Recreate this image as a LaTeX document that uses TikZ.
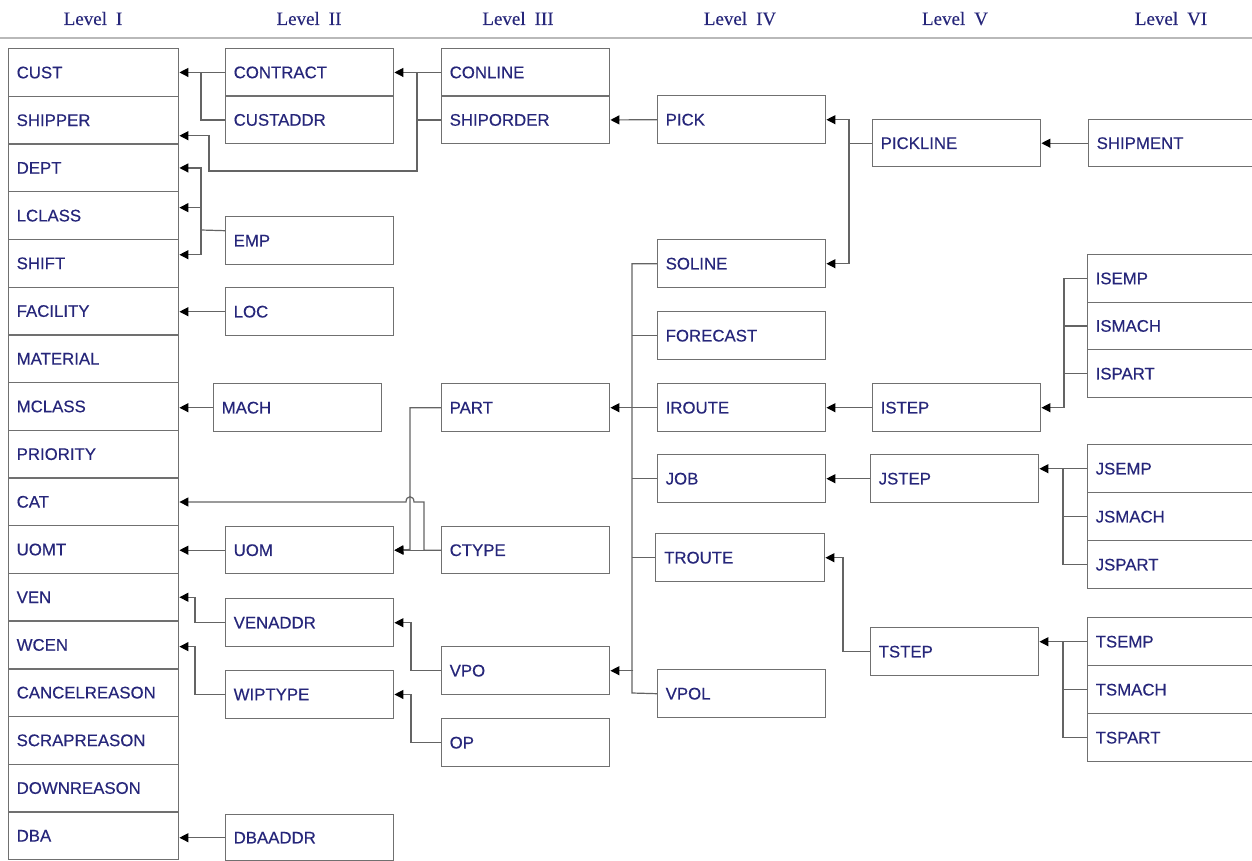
\documentclass[tikz,border=0pt]{standalone}
\usepackage{fontspec}
\setmainfont{Liberation Serif}[FakeBold=0.25]
\newfontfamily\boxfont{Liberation Sans}[FakeBold=0.35]
\usetikzlibrary{arrows.meta,calc}
\definecolor{navy}{RGB}{38,38,122}
\definecolor{boxgray}{RGB}{112,112,112}
\definecolor{linegray}{RGB}{100,100,100}
\begin{document}
\begin{tikzpicture}[x=1pt,y=-1pt,
  ent/.style={draw=boxgray, line width=1.4pt, anchor=north west,
    minimum height=48pt, minimum width=168pt, text width=152pt,
    inner xsep=8pt, inner ysep=0pt, align=left,
    font=\boxfont\fontsize{16.8}{18}\selectfont, text=navy},
  lc/.style={ent, minimum width=170pt, text width=154pt, minimum height=47.7pt},
  rc/.style={ent, minimum width=176pt, text width=160pt},
  hdr/.style={anchor=base, text=navy, font=\fontsize{19}{22}\selectfont},
  ln/.style={draw=linegray, line width=1.2pt},
  arr/.style={ln, -{Triangle[length=9pt,width=9pt,color=black]}}]
\useasboundingbox (0,0) rectangle (1252,861);
\fill[white] (0,0) rectangle (1252,861);

% header
\node[hdr] (h1) at (93,25) {Level\hspace{9pt}I};
\node[hdr] (h2) at (309,25) {Level\hspace{9pt}II};
\node[hdr] (h3) at (518,25) {Level\hspace{9pt}III};
\node[hdr] (h4) at (740,25) {Level\hspace{9pt}IV};
\node[hdr] (h5) at (955,25) {Level\hspace{9pt}V};
\node[hdr] (h6) at (1171,25) {Level\hspace{9pt}VI};
\draw[gray!55, line width=1.6pt] (0,38) -- (1252,38);

% Level I
\node[lc] (CUST) at (8,48.0) {CUST};
\node[lc] (SHIPPER) at (8,95.7) {SHIPPER};
\node[lc] (DEPT) at (8,143.4) {DEPT};
\node[lc] (LCLASS) at (8,191.1) {LCLASS};
\node[lc] (SHIFT) at (8,238.8) {SHIFT};
\node[lc] (FACILITY) at (8,286.5) {FACILITY};
\node[lc] (MATERIAL) at (8,334.2) {MATERIAL};
\node[lc] (MCLASS) at (8,381.9) {MCLASS};
\node[lc] (PRIORITY) at (8,429.6) {PRIORITY};
\node[lc] (CAT) at (8,477.3) {CAT};
\node[lc] (UOMT) at (8,525.0) {UOMT};
\node[lc] (VEN) at (8,572.7) {VEN};
\node[lc] (WCEN) at (8,620.4) {WCEN};
\node[lc] (CANCELREASON) at (8,668.1) {CANCELREASON};
\node[lc] (SCRAPREASON) at (8,715.8) {SCRAPREASON};
\node[lc] (DOWNREASON) at (8,763.5) {DOWNREASON};
\node[lc] (DBA) at (8,811.2) {DBA};

% Level II
\node[ent, minimum height=47.5pt] (CONTRACT) at (225,48) {CONTRACT};
\node[ent, minimum height=47.5pt] (CUSTADDR) at (225,95.5) {CUSTADDR};
\node[ent] (EMP) at (225,216) {EMP};
\node[ent] (LOC) at (225,287) {LOC};
\node[ent] (MACH) at (213,383) {MACH};
\node[ent, minimum height=47pt] (UOM) at (225,526) {UOM};
\node[ent] (VENADDR) at (225,598) {VENADDR};
\node[ent, minimum height=48.5pt] (WIPTYPE) at (225,669.5) {WIPTYPE};
\node[ent, minimum height=46pt] (DBAADDR) at (225,814) {DBAADDR};

% Level III
\node[ent, minimum height=47.5pt] (CONLINE) at (441,48) {CONLINE};
\node[ent, minimum height=47.5pt] (SHIPORDER) at (441,95.5) {SHIPORDER};
\node[ent] (PART) at (441,383) {PART};
\node[ent, minimum height=47pt] (CTYPE) at (441,526) {CTYPE};
\node[ent] (VPO) at (441,646) {VPO};
\node[ent] (OP) at (441,718) {OP};

% Level IV
\node[ent] (PICK) at (657,95) {PICK};
\node[ent] (SOLINE) at (657,239) {SOLINE};
\node[ent] (FORECAST) at (657,311) {FORECAST};
\node[ent] (IROUTE) at (657,383) {IROUTE};
\node[ent] (JOB) at (657,454) {JOB};
\node[ent, minimum width=169pt] (TROUTE) at (655,533) {TROUTE};
\node[ent] (VPOL) at (657,669) {VPOL};

% Level V
\node[ent, minimum height=47pt] (PICKLINE) at (872,119) {PICKLINE};
\node[ent] (ISTEP) at (872,383) {ISTEP};
\node[ent] (JSTEP) at (870,454) {JSTEP};
\node[ent] (TSTEP) at (870,627) {TSTEP};

% Level VI
\node[rc, minimum height=47pt] (SHIPMENT) at (1088,119) {SHIPMENT};
\node[rc, minimum height=47.5pt] (ISEMP) at (1087,254) {ISEMP};
\node[rc, minimum height=47.5pt] (ISMACH) at (1087,301.5) {ISMACH};
\node[rc] (ISPART) at (1087,349) {ISPART};
\node[rc] (JSEMP) at (1087,444) {JSEMP};
\node[rc] (JSMACH) at (1087,492) {JSMACH};
\node[rc] (JSPART) at (1087,540) {JSPART};
\node[rc] (TSEMP) at (1087,617) {TSEMP};
\node[rc] (TSMACH) at (1087,665) {TSMACH};
\node[rc] (TSPART) at (1087,713) {TSPART};

% ---- connectors ----
% CONTRACT / CUSTADDR -> CUST
\draw[arr] (CONTRACT.west) -- (CONTRACT.west -| CUST.east);
\draw[ln] (CUSTADDR.west) -- ++(-24,0) |- (CONTRACT.west);
% CONLINE / SHIPORDER -> CONTRACT, SHIPPER
\draw[arr] (CONLINE.west) -- (CONTRACT.east);
\draw[ln] (CONLINE.west -| 417,0) -- (SHIPORDER.west -| 417,0);
\draw[arr] (SHIPORDER.west) -| (417,171) -- (209,171) |- ([yshift=-15.45pt]SHIPPER.east);
% EMP -> DEPT, LCLASS, SHIFT
\coordinate (e1) at (201,230);
\draw[ln] ([yshift=10pt]EMP.west) -- (e1);
\draw[arr] (e1) |- (DEPT.east);
\draw[arr] (e1) |- ([yshift=8pt]LCLASS.east);
\draw[arr] (e1) |- ([yshift=8.65pt]SHIFT.east);
% LOC, MACH
\draw[arr] (LOC.west) -- (LOC.west -| FACILITY.east);
\draw[arr] (MACH.west) -- (MACH.west -| MCLASS.east);
% PART -> UOM, CTYPE -> UOM, CTYPE -> CAT
\draw[arr] (PART.west) -| (410,549.5) -- (UOM.east);
\draw[arr] (CTYPE.west) -- (UOM.east);
\draw[arr] (CTYPE.west) -| (424,502) -- (414,502) .. controls (414,495) and (406,495) .. (406,502) -- (CAT.east |- 0,502);
\draw[arr] (UOM.west) -- (UOM.west -| UOMT.east);
% VENADDR, WIPTYPE, VPO, OP, DBAADDR
\draw[arr] (VENADDR.west) -- ++(-30,0) |- (VEN.east);
\draw[arr] (WIPTYPE.west) -- ++(-30,0) |- ([yshift=-1.7pt]WCEN.east);
\draw[arr] (VPO.west) -- ++(-30,0) |- (VENADDR.east);
\draw[arr] (OP.west) -- ++(-30,0) |- (WIPTYPE.east);
\draw[arr] (DBAADDR.west) -- (DBAADDR.west -| DBA.east);
% PICK -> SHIPORDER
\draw[arr] (PICK.west) -- (SHIPORDER.east);
% Level IV bus
\draw[ln] (SOLINE.west) -| (632,693) -- (VPOL.west);
\draw[ln] (FORECAST.west) -- ++(-25,0);
\draw[ln] (JOB.west) -- ++(-25,0);
\draw[ln] (TROUTE.west) -- ++(-23,0);
\draw[arr] (IROUTE.west) -- (PART.east);
\draw[arr] ([xshift=23pt]VPO.east) -- (VPO.east);
% PICKLINE -> PICK, SOLINE
\draw[arr] (PICKLINE.west) -- ++(-23,0) |- (PICK.east);
\draw[arr] ([xshift=-23pt]PICKLINE.west) |- (SOLINE.east);
\draw[arr] (SHIPMENT.west) -- (PICKLINE.east);
% ISTEP group
\draw[arr] (ISTEP.west) -- (IROUTE.east);
\draw[arr] (ISEMP.west) -- ++(-23,0) |- (ISTEP.east);
\draw[ln] (ISMACH.west) -- ++(-23,0);
\draw[ln] (ISPART.west) -- ++(-23,0);
% JSTEP group
\draw[arr] (JSTEP.west) -- (JOB.east);
\draw[arr] (JSEMP.west) -- (JSEMP.west -| JSTEP.east);
\draw[ln] (JSPART.west) -- ++(-24,0) |- (JSEMP.west);
\draw[ln] (JSMACH.west) -- ++(-24,0);
% TSTEP group
\draw[arr] (TSTEP.west) -- ++(-27,0) |- (TROUTE.east);
\draw[arr] (TSEMP.west) -- (TSEMP.west -| TSTEP.east);
\draw[ln] (TSPART.west) -- ++(-24,0) |- (TSEMP.west);
\draw[ln] (TSMACH.west) -- ++(-24,0);
\end{tikzpicture}
\end{document}
